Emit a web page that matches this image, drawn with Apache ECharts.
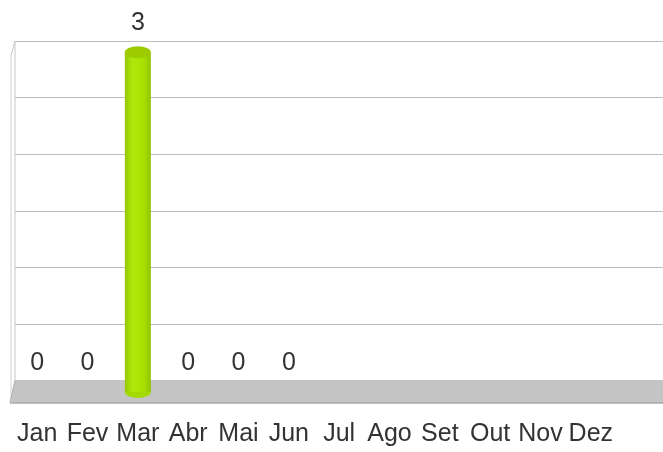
<!DOCTYPE html>
<html>
<head>
<meta charset="utf-8">
<script src="https://cdn.jsdelivr.net/npm/echarts@6/dist/echarts.min.js"></script>
<style>
  html, body { margin: 0; padding: 0; background: #fff; }
  #main { width: 663px; height: 452px; }
</style>
</head>
<body>
<div id="main"></div>
<script>
// meses e valores
var months = ['Jan', 'Fev', 'Mar', 'Abr', 'Mai', 'Jun', 'Jul', 'Ago', 'Set', 'Out', 'Nov', 'Dez'];
var values = [0, 0, 3, 0, 0, 0, null, null, null, null, null, null];
var yTicks = [0, 0.5, 1, 1.5, 2, 2.5, 3];

var myChart = echarts.init(document.getElementById('main'));

var barData = values.map(function (v) { return v === null ? '-' : v; });
var capData = values.map(function (v) { return v ? v : '-'; });

var bodyColor = new echarts.graphic.LinearGradient(0, 0, 1, 0, [
    { offset: 0, color: '#96c600' },
    { offset: 0.3, color: '#b0e80c' },
    { offset: 0.75, color: '#a8df00' },
    { offset: 1, color: '#92c200' }
]);

option = {
    backgroundColor: '#fff',
    animation: false,
    textStyle: { fontFamily: 'Liberation Sans' },
    // fundo (parede) e frente (barras)
    grid: [
        { left: 15, right: 0, top: 41, bottom: 71 },
        { left: 12, right: 47, top: 52, bottom: 60 }
    ],
    xAxis: [
        {
            gridIndex: 0, type: 'category', data: months,
            axisLine: { show: false }, axisTick: { show: false }, axisLabel: { show: false }
        },
        {
            gridIndex: 1, type: 'category', data: months,
            axisLine: { show: false }, axisTick: { show: false },
            axisLabel: { color: '#333', fontSize: 25, margin: 30, interval: 0 }
        }
    ],
    yAxis: [
        {
            gridIndex: 0, type: 'value', min: yTicks[0], max: yTicks[yTicks.length - 1], interval: 0.5,
            axisLine: { show: false }, axisTick: { show: false }, axisLabel: { show: false },
            splitLine: { lineStyle: { color: '#bdbdbd', width: 1 } }
        },
        {
            gridIndex: 1, type: 'value', min: yTicks[0], max: yTicks[yTicks.length - 1], interval: 0.5,
            axisLine: { show: false }, axisTick: { show: false }, axisLabel: { show: false },
            splitLine: { show: false }
        }
    ],
    graphic: [
        // piso
        {
            type: 'polygon', z: 1,
            shape: { points: [[15, 380], [663, 380], [663, 403], [10, 403]] },
            style: { fill: '#c4c4c4', stroke: null }
        },
        {
            type: 'line', z: 1,
            shape: { x1: 10, y1: 403, x2: 663, y2: 403 },
            style: { stroke: '#a9a9a9', lineWidth: 1.5 }
        },
        // parede esquerda
        {
            type: 'line', z: 1,
            shape: { x1: 15, y1: 41, x2: 15, y2: 380 },
            style: { stroke: '#c8c8c8', lineWidth: 1 }
        },
        {
            type: 'line', z: 1,
            shape: { x1: 11, y1: 56, x2: 11, y2: 403 },
            style: { stroke: '#d0d0d0', lineWidth: 1 }
        },
        {
            type: 'line', z: 1,
            shape: { x1: 15, y1: 41, x2: 11, y2: 56 },
            style: { stroke: '#c8c8c8', lineWidth: 1 }
        },
        {
            type: 'line', z: 1,
            shape: { x1: 15, y1: 380, x2: 10, y2: 403 },
            style: { stroke: '#b0b0b0', lineWidth: 1 }
        }
    ],
    series: [
        {
            type: 'bar',
            xAxisIndex: 1, yAxisIndex: 1,
            data: barData,
            barWidth: 26,
            itemStyle: { color: bodyColor },
            label: {
                show: true, position: 'top', distance: 16,
                color: '#333', fontSize: 25
            },
            z: 3
        },
        {
            type: 'pictorialBar',
            xAxisIndex: 1, yAxisIndex: 1,
            data: capData,
            symbol: 'circle',
            symbolSize: [26, 12],
            symbolOffset: [0, '50%'],
            itemStyle: { color: '#a4da00' },
            z: 2
        },
        {
            type: 'pictorialBar',
            xAxisIndex: 1, yAxisIndex: 1,
            data: capData,
            symbol: 'circle',
            symbolSize: [26, 12],
            symbolPosition: 'end',
            symbolOffset: [0, '-50%'],
            itemStyle: { color: '#9ccc00', borderColor: '#b4e418', borderWidth: 1 },
            z: 4
        }
    ]
};

myChart.setOption(option);
</script>
</body>
</html>
